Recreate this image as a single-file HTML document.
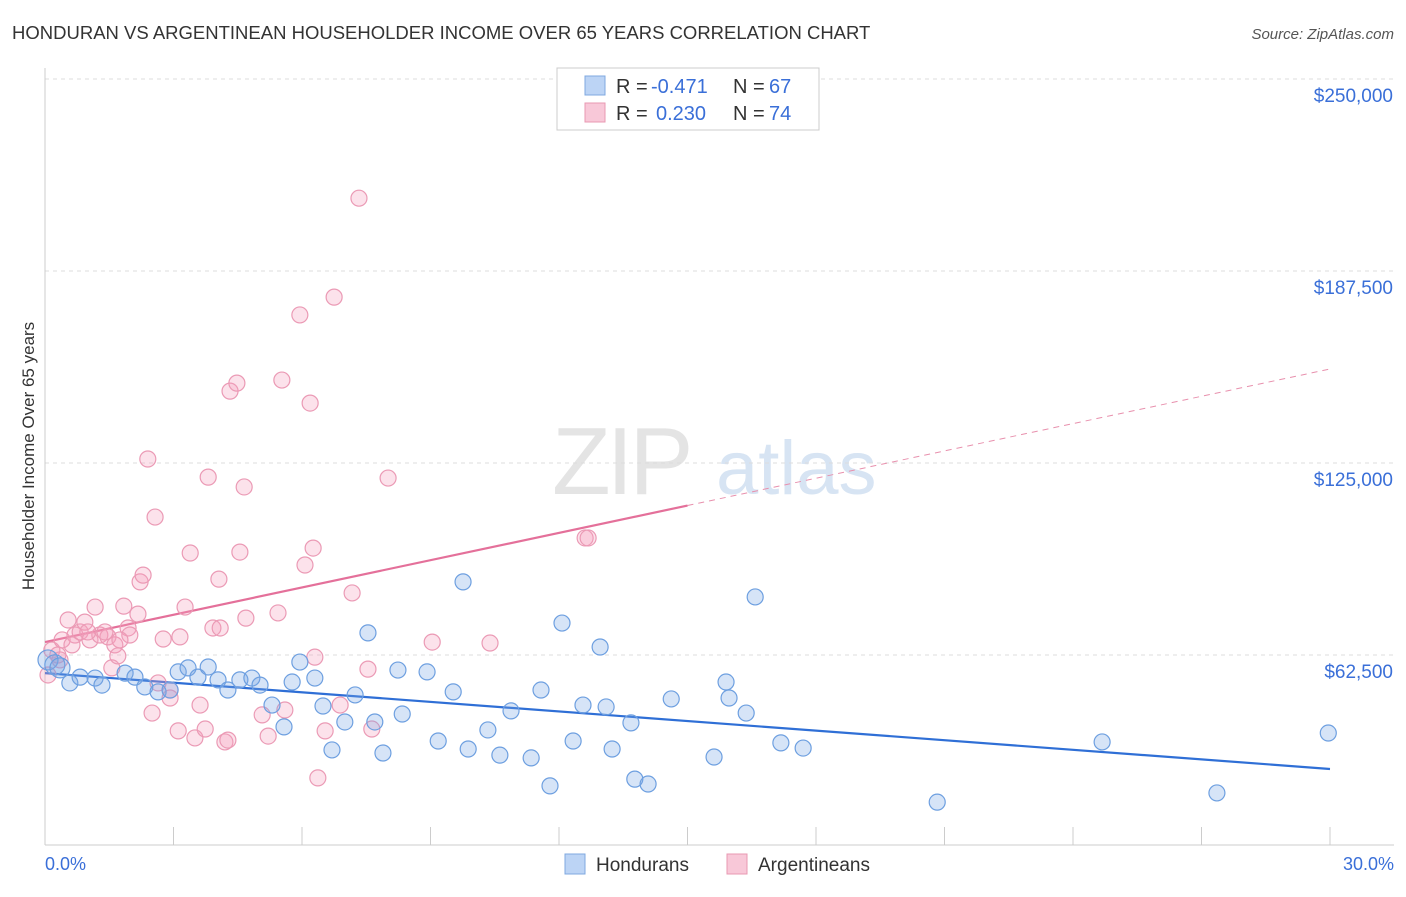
<!DOCTYPE html>
<html><head><meta charset="utf-8"><style>
body{margin:0;background:#fff;font-family:"Liberation Sans",sans-serif;}
svg text{font-family:"Liberation Sans",sans-serif;}
</style></head><body>
<svg id="chart" width="1406" height="892" xmlns="http://www.w3.org/2000/svg">
<text x="12" y="39" font-size="18.5" fill="#333">HONDURAN VS ARGENTINEAN HOUSEHOLDER INCOME OVER 65 YEARS CORRELATION CHART</text>
<text x="1394" y="39" font-size="15" fill="#555" text-anchor="end" font-style="italic">Source: ZipAtlas.com</text>
<g>
<text x="552" y="494" font-size="96" fill="#e4e4e4" font-family="Liberation Serif" letter-spacing="-4">ZIP</text>
<text x="716" y="494" font-size="76" fill="#d7e4f3">atlas</text>
</g>
<g id="grid"></g>
<g id="axes"></g>
<g id="trend"></g>
<g id="points"></g>
<g>
<rect x="557" y="68" width="262" height="62" fill="#fff" stroke="#ccc"/>
<rect x="585" y="76" width="20" height="19" fill="#bcd4f5" stroke="#7fa8e0"/>
<rect x="585" y="103" width="20" height="19" fill="#f8c8d8" stroke="#e898b2"/>
<g font-size="20" fill="#333">
<text x="616" y="93">R =</text><text x="651" y="93" fill="#3a6fd8">-0.471</text><text x="733" y="93">N =</text><text x="769" y="93" fill="#3a6fd8">67</text>
</g>
<g font-size="20" fill="#333">
<text x="616" y="120">R =</text><text x="656" y="120" fill="#3a6fd8">0.230</text><text x="733" y="120">N =</text><text x="769" y="120" fill="#3a6fd8">74</text>
</g>
</g>
<g>
<rect x="565" y="854" width="20" height="20" fill="#bcd4f5" stroke="#7fa8e0"/>
<text x="596" y="871" font-size="19" fill="#333">Hondurans</text>
<rect x="727" y="854" width="20" height="20" fill="#f8c8d8" stroke="#e898b2"/>
<text x="758" y="871" font-size="19" fill="#333">Argentineans</text>
</g>
<text x="34" y="456" font-size="17" fill="#333" transform="rotate(-90 34 456)" text-anchor="middle">Householder Income Over 65 years</text>
</svg>
<script>
const blueX=[0.07,0.23,0.35,0.58,0.82,1.17,1.33,1.87,2.10,2.33,2.64,2.92,3.11,3.34,3.57,3.81,4.04,4.27,4.55,4.83,5.02,5.30,5.58,5.77,5.95,6.30,6.49,6.70,7.00,7.24,7.54,7.70,7.89,8.24,8.34,8.92,9.18,9.53,9.76,9.88,10.34,10.62,10.88,11.35,11.58,11.79,12.07,12.33,12.56,12.96,13.10,13.24,13.68,13.77,14.08,14.62,15.62,15.90,15.97,16.37,16.58,17.18,17.70,20.83,24.68,27.36,29.96];
const blueY=[60.9,59.3,58.3,53.4,55.3,55.0,52.7,56.6,55.3,52.1,50.5,51.1,57.0,58.3,55.3,58.6,54.4,51.1,54.4,55.0,52.7,46.2,39.1,53.7,60.2,55.0,45.9,31.6,40.7,49.5,69.7,40.7,30.6,57.6,43.3,57.0,34.5,50.5,86.3,31.9,38.1,29.9,44.3,29.0,51.1,19.9,72.9,34.5,46.2,65.1,45.6,31.9,40.4,22.1,20.5,48.2,29.3,53.7,48.5,43.6,81.4,33.9,32.2,14.6,34.2,17.6,37.1];
const pinkX=[0.07,0.16,0.30,0.40,0.54,0.70,0.82,0.93,1.05,1.17,1.28,1.47,1.56,1.63,1.70,1.84,1.94,1.98,2.17,2.22,2.29,2.40,2.50,2.57,2.64,2.76,2.92,3.11,3.15,3.27,3.39,3.50,3.62,3.74,3.81,3.92,4.06,4.20,4.27,4.32,4.48,4.55,4.65,4.69,5.07,5.21,5.44,5.53,5.60,5.95,6.07,6.19,6.26,6.30,6.37,6.54,6.75,6.89,7.17,7.33,7.54,7.63,8.01,12.61,12.68,9.04,10.39,0.35,0.63,1.00,1.40,1.75,4.09,2.92];
const pinkY=[56.0,64.1,62.5,67.4,73.9,69.0,70.0,73.2,67.4,78.1,69.0,68.4,58.3,65.8,62.2,78.4,71.3,69.0,75.8,86.3,88.5,126.3,43.6,107.4,53.4,67.7,48.5,37.8,68.4,78.1,95.7,35.5,46.2,38.4,120.4,71.3,87.2,34.2,34.8,148.4,151.0,96.0,117.2,74.5,43.0,36.1,76.2,152.0,44.6,173.2,91.8,144.5,97.3,61.8,22.5,37.8,179.0,46.2,82.7,211.2,57.9,38.4,120.1,100.6,100.6,66.7,66.4,60.9,65.8,70.0,70.0,67.4,71.3,51.1];
const blueTrend=[56.6,25.4];   // value at 0% and 30%
const pinkTrend=[66.7,155.6];
const pinkSolidEnd=15.0;
const yTicks=[62.5,125,187.5,250];
const yTickLabels=["$62,500","$125,000","$187,500","$250,000"];

const NS="http://www.w3.org/2000/svg";
const sx=v=>45+v/30*1285;
const sy=v=>847-v*192/62.5;
function mk(tag,attrs,parent){const e=document.createElementNS(NS,tag);for(const k in attrs)e.setAttribute(k,attrs[k]);parent.appendChild(e);return e;}
const grid=document.getElementById('grid'),axes=document.getElementById('axes'),trend=document.getElementById('trend'),pts=document.getElementById('points');
yTicks.forEach((t,i)=>{
  const l=mk('line',{x1:45,x2:1394,y1:sy(t),y2:sy(t),stroke:'#ddd','stroke-dasharray':'4,4'},grid);
  
  
  const tx=mk('text',{x:1393,y:sy(t)+23,'font-size':19,fill:'#3a6fd8','text-anchor':'end'},axes);
  tx.textContent=yTickLabels[i];
  
  
});
mk('line',{x1:45,x2:45,y1:68,y2:845,stroke:'#ccc'},axes);
mk('line',{x1:45,x2:1394,y1:845,y2:845,stroke:'#ccc'},axes);
for(let i=1;i<=10;i++){mk('line',{x1:sx(i*3),x2:sx(i*3),y1:827,y2:845,stroke:'#ccc'},axes);}
const x0=mk('text',{x:45,y:870,'font-size':18,fill:'#3a6fd8'},axes);x0.textContent='0.0%';


const x1=mk('text',{x:1394,y:870,'font-size':18,fill:'#3a6fd8','text-anchor':'end'},axes);x1.textContent='30.0%';



const pf=x=>pinkTrend[0]+(pinkTrend[1]-pinkTrend[0])*x/30;
pinkX.forEach((x,i)=>{const c=mk('circle',{cx:sx(x),cy:sy(pinkY[i]),r:8,fill:'rgba(244,160,190,0.3)',stroke:'#eb9ab5','stroke-width':1.2},pts);
  
  });
blueX.forEach((x,i)=>{const c=mk('circle',{cx:sx(x),cy:sy(blueY[i]),r:i<3?10:8,fill:'rgba(120,165,230,0.3)',stroke:'#6d9fe0','stroke-width':1.2},pts);
  
  });
const bl=mk('line',{x1:sx(0),y1:sy(blueTrend[0]),x2:sx(30),y2:sy(blueTrend[1]),stroke:'#2f6fd6','stroke-width':2.2},trend);


const pl=mk('line',{x1:sx(0),y1:sy(pf(0)),x2:sx(pinkSolidEnd),y2:sy(pf(pinkSolidEnd)),stroke:'#e4709a','stroke-width':2.2},trend);


const pd=mk('line',{x1:sx(pinkSolidEnd),y1:sy(pf(pinkSolidEnd)),x2:sx(30),y2:sy(pf(30)),stroke:'#e890ad','stroke-width':1,'stroke-dasharray':'6,5'},trend);


</script>
</body></html>
